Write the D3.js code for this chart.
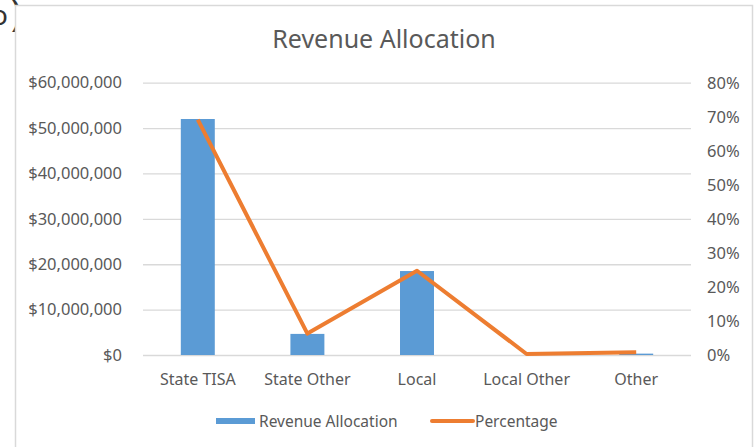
<!DOCTYPE html>
<html>
<head>
<meta charset="utf-8">
<script src="https://cdn.jsdelivr.net/npm/d3@7"></script>
<style>
  body { margin: 0; background: #fff; }
  svg { display: block; font-family: "Noto Sans", "Open Sans", sans-serif; }
</style>
</head>
<body>
<div id="chart"></div>
<script>
// Data
const categories = ["State TISA", "State Other", "Local", "Local Other", "Other"];
const revenue = [52000000, 4650000, 18500000, 0, 300000];
const percentage = [0.693, 0.063, 0.248, 0.003, 0.008];
const leftTicks = [0, 10000000, 20000000, 30000000, 40000000, 50000000, 60000000];
const rightTicks = [0, 0.1, 0.2, 0.3, 0.4, 0.5, 0.6, 0.7, 0.8];

const W = 756, H = 447;
const plot = {left: 143, right: 691, top: 82.7, bottom: 355};
const textColor = "#595959";
const blue = "#5B9BD5", orange = "#ED7D31";

const svg = d3.select("#chart").append("svg")
  .attr("width", W)
  .attr("height", H);

// stray text behind the chart (cropped from the source page)
svg.append("text")
  .attr("x", -9)
  .attr("y", 25)
  .attr("font-size", "28px")
  .attr("fill", "#333")
  .text("o");
svg.append("text")
  .attr("x", 11)
  .attr("y", 26)
  .attr("font-size", "36px")
  .attr("fill", "#333")
  .text(")");

// chart area with border
svg.append("rect")
  .attr("x", 15.5)
  .attr("y", 5.5)
  .attr("width", 737)
  .attr("height", 460)
  .attr("fill", "#fff")
  .attr("stroke", "#d9d9d9")
  .attr("stroke-width", 1.5);

const x = d3.scaleBand().domain(categories).range([plot.left, plot.right]).padding(0);
const yL = d3.scaleLinear().domain([0, 60000000]).range([plot.bottom, plot.top]);
const yR = d3.scaleLinear().domain([0, 0.8]).range([plot.bottom, 83.3]);

// gridlines
svg.append("g")
  .attr("transform", `translate(${plot.left},0)`)
  .call(d3.axisLeft(yL).tickValues(leftTicks).tickSize(-(plot.right - plot.left)).tickFormat(""))
  .call(g => g.select(".domain").remove())
  .call(g => g.selectAll("line").attr("stroke", "#d9d9d9").attr("stroke-width", 1.3));

// left axis labels
svg.append("g")
  .attr("transform", `translate(${plot.left - 21},0)`)
  .call(d3.axisLeft(yL).tickValues(leftTicks).tickSize(0).tickPadding(0).tickFormat(d3.format("$,.0f")))
  .call(g => g.select(".domain").remove())
  .call(g => g.selectAll("text").attr("fill", textColor).attr("font-size", "16.5px")
    .attr("font-family", "'Noto Sans', sans-serif"));

// right axis labels
svg.append("g")
  .attr("transform", `translate(707,0)`)
  .call(d3.axisRight(yR).tickValues(rightTicks).tickSize(0).tickPadding(0).tickFormat(d3.format(".0%")))
  .call(g => g.select(".domain").remove())
  .call(g => g.selectAll("text").attr("fill", textColor).attr("font-size", "16.5px")
    .attr("font-family", "'Noto Sans', sans-serif"));

// category labels
svg.append("g")
  .attr("transform", `translate(0,${plot.bottom})`)
  .call(d3.axisBottom(x).tickSize(0).tickPadding(19))
  .call(g => g.select(".domain").remove())
  .call(g => g.selectAll("text").attr("fill", textColor).attr("font-size", "16px")
    .attr("font-family", "'Noto Sans', sans-serif"));

// bars
const barW = x.bandwidth() * 0.31;
svg.selectAll("rect.bar")
  .data(categories)
  .enter().append("rect")
  .attr("class", "bar")
  .attr("x", d => x(d) + x.bandwidth() / 2 - barW / 2)
  .attr("y", (d, i) => yL(revenue[i]))
  .attr("width", barW)
  .attr("height", (d, i) => plot.bottom - yL(revenue[i]))
  .attr("fill", blue);

// percentage line
const line = d3.line()
  .x(d => x(d.c) + x.bandwidth() / 2)
  .y(d => yR(d.v));
svg.append("path")
  .datum(categories.map((c, i) => ({c, v: percentage[i]})))
  .attr("d", line)
  .attr("fill", "none")
  .attr("stroke", orange)
  .attr("stroke-width", 4)
  .attr("stroke-linejoin", "round");

// title
svg.append("text")
  .attr("x", 384)
  .attr("y", 48)
  .attr("text-anchor", "middle")
  .attr("font-size", "25px")
  .attr("fill", textColor)
  .text("Revenue Allocation");

// legend
const leg = svg.append("g").attr("transform", "translate(216,421)");
leg.append("rect")
  .attr("x", 0).attr("y", -3)
  .attr("width", 39).attr("height", 6)
  .attr("fill", blue);
leg.append("text")
  .attr("x", 43).attr("y", 6)
  .attr("font-size", "15.5px")
  .attr("fill", textColor)
  .text("Revenue Allocation");
leg.append("line")
  .attr("x1", 216).attr("x2", 257)
  .attr("y1", 0).attr("y2", 0)
  .attr("stroke", orange)
  .attr("stroke-width", 4)
  .attr("stroke-linecap", "round");
leg.append("text")
  .attr("x", 259).attr("y", 6)
  .attr("font-size", "15.5px")
  .attr("fill", textColor)
  .text("Percentage");
</script>
</body>
</html>
